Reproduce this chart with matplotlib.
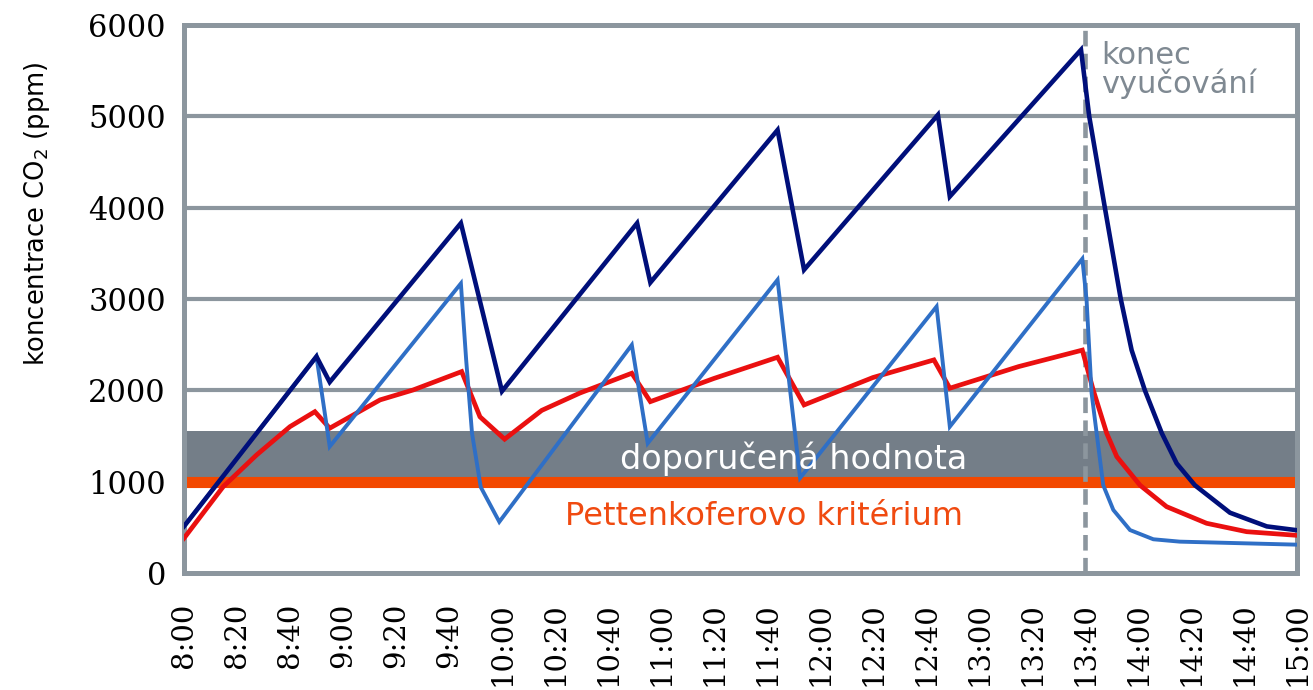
import matplotlib
matplotlib.use("Agg")
import matplotlib.pyplot as plt

# ---- data (minutes after 8:00, ppm) ----
tick_minutes = list(range(0, 421, 20))
tick_labels = ["8:00", "8:20", "8:40", "9:00", "9:20", "9:40", "10:00", "10:20", "10:40",
               "11:00", "11:20", "11:40", "12:00", "12:20", "12:40", "13:00", "13:20",
               "13:40", "14:00", "14:20", "14:40", "15:00"]
y_ticks = [0, 1000, 2000, 3000, 4000, 5000, 6000]

navy_t = [0, 50, 55, 104.5, 120, 171, 176, 224, 234, 284.5, 289, 338.5,
          341.6, 347.5, 353.5, 357.6, 362.6, 369, 374.6, 381.5, 394.7, 408.6, 420]
navy_v = [510, 2370, 2090, 3830, 1990, 3830, 3180, 4850, 3320, 5016, 4122, 5728,
          5000, 4000, 3000, 2440, 2000, 1530, 1200, 960, 660, 510, 468]

blue_t = [0, 50, 55, 104.5, 106.5, 108.7, 112, 119, 169, 175, 224, 232.5, 284, 289, 339,
          340.6, 342.5, 344.4, 346.9, 350.7, 357, 365.8, 375.8, 420]
blue_v = [510, 2370, 1384, 3170, 2330, 1530, 940, 560, 2497, 1420, 3210, 1040, 2917, 1602, 3440,
          2990, 1968, 1530, 960, 690, 470, 369, 343, 310]

red_t = [0, 14.8, 27.4, 40, 49.4, 55, 74, 86.5, 104.8, 111.7, 121, 135, 149.4, 169, 176, 200, 224,
         234, 260, 283, 289, 315, 339, 343.1, 348.2, 352, 360.8, 370.8, 385.9, 401, 420]
red_v = [380, 945, 1292, 1602, 1766, 1585, 1895, 2004, 2205, 1710, 1465, 1780, 1970, 2187, 1876, 2130,
         2362, 1840, 2140, 2333, 2023, 2260, 2440, 2004, 1530, 1274, 960, 726, 544, 452, 412]

band_low, band_high = 1000, 1550
pettenkofer = 1000
end_of_school = 340  # 13:40

# ---- styling ----
grey = "#8c969e"
fig = plt.figure(figsize=(13.13, 6.9), dpi=100)
ax = fig.add_axes([0.1401, 0.1696, 0.8477, 0.7942])
ax.set_xlim(0, 420)
ax.set_ylim(0, 6000)

for v in y_ticks[1:-1]:
    ax.axhline(v, color=grey, lw=3.0, zorder=1)

ax.axhspan(band_low, band_high, color="#747e88", lw=0, zorder=1.5)
ax.axhline(pettenkofer, color="#f34800", lw=8, zorder=2)
ax.axvline(end_of_school, color=grey, lw=3.3, dashes=(3.4, 1.6), zorder=2.2)

ax.plot(red_t, red_v, color="#ea1010", lw=3.4, zorder=3, solid_joinstyle="miter")
ax.plot(blue_t, blue_v, color="#2f6fc6", lw=2.8, zorder=4, solid_joinstyle="miter")
ax.plot(navy_t, navy_v, color="#000f7a", lw=3.3, zorder=5, solid_joinstyle="miter")

ax.text(230, 1250, "doporučená hodnota", color="white", fontsize=24,
        ha="center", va="center", zorder=6)
ax.text(219, 615, "Pettenkoferovo kritérium", color="#f04a10", fontsize=23,
        ha="center", va="center", zorder=6)
ax.text(346, 5830, "konec\nvyučování", color="#7f8992", fontsize=22,
        ha="left", va="top", linespacing=0.95, zorder=6)

for s in ax.spines.values():
    s.set_color(grey)
    s.set_linewidth(3.6)

ax.set_yticks(y_ticks)
ax.set_yticklabels([str(v) for v in y_ticks], family="DejaVu Serif", fontsize=22)
ax.set_xticks(tick_minutes)
ax.set_xticklabels(tick_labels, family="DejaVu Serif", fontsize=21, rotation=90)
ax.tick_params(axis="y", length=0, pad=13)
ax.tick_params(axis="x", length=0, pad=21)

fig.text(0.028, 0.69, "koncentrace CO$_2$ (ppm)", rotation=90, fontsize=18.5,
         ha="center", va="center")

fig.savefig("out.png", dpi=100)
